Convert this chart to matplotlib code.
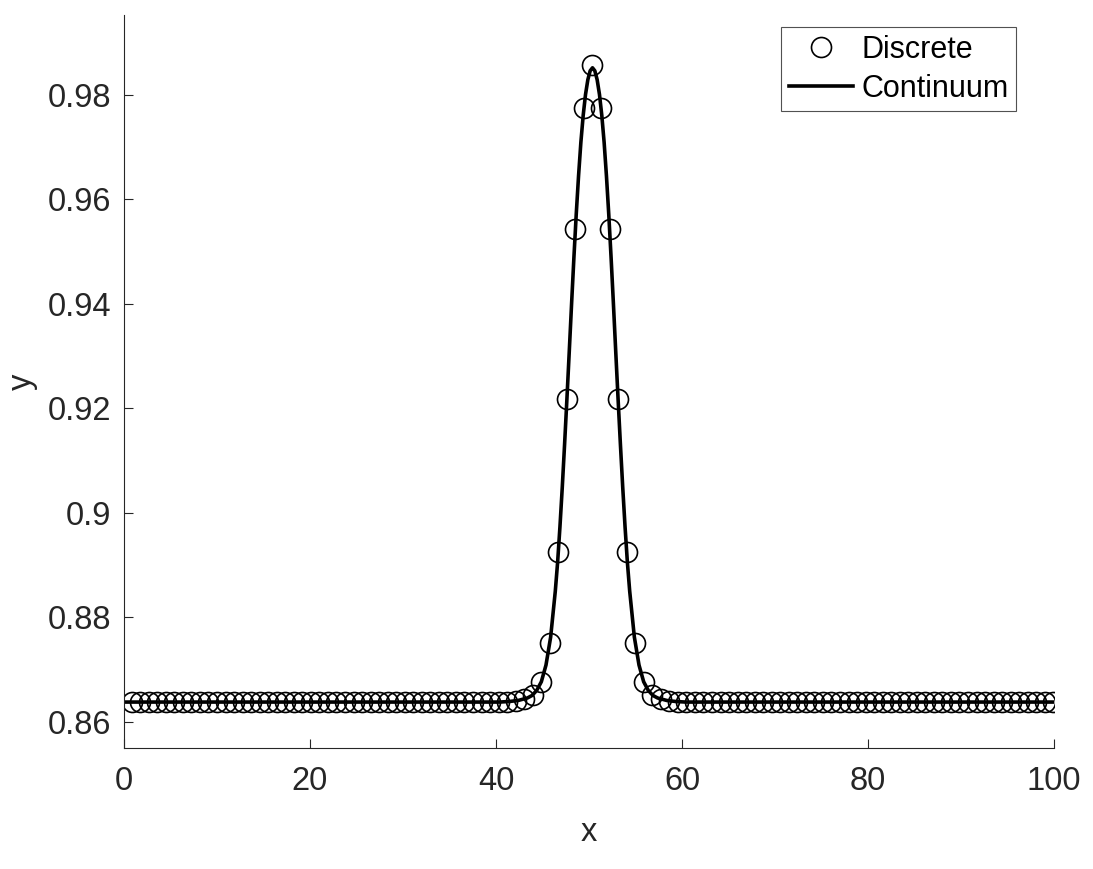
import numpy as np
import matplotlib
matplotlib.use('Agg')
import matplotlib.pyplot as plt

plt.rcParams['font.family'] = ['Liberation Sans', 'DejaVu Sans']

# Discrete lattice: 109 sites, flat background with a bump in the middle
disc_x = np.linspace(0.83, 99.93, 109)
bump_y = [0.8640, 0.8644, 0.8652, 0.8677, 0.8751, 0.8925, 0.9218, 0.9543, 0.9776,
          0.9857,
          0.9776, 0.9543, 0.9218, 0.8925, 0.8751, 0.8677, 0.8652, 0.8644, 0.8640]
disc_y = [0.8638] * 45 + bump_y + [0.8638] * 45

peak_x = 50.38
cont_offset = [0.0, 0.25, 0.5, 0.75, 1.0, 1.25, 1.5, 1.75, 2.0, 2.25, 2.5, 2.75,
               3.0, 3.25, 3.5, 3.75, 4.0, 4.5, 5.0, 5.5, 6.0, 6.5, 7.0, 8.0,
               9.0, 10.0, 50.38]
cont_height = [0.98520, 0.98463, 0.98292, 0.98010, 0.97610, 0.97094, 0.96450,
               0.95712, 0.94884, 0.93999, 0.93084, 0.92183, 0.91316, 0.90491,
               0.89735, 0.89057, 0.88502, 0.87624, 0.87089, 0.86769, 0.86602,
               0.86506, 0.86458, 0.86410, 0.86390, 0.86380, 0.86380]

off = np.array(cont_offset)
hgt = np.array(cont_height)
cont_x = np.concatenate([peak_x - off[::-1], peak_x + off[1:]])
cont_y = np.concatenate([hgt[::-1], hgt[1:]])
cont_x = np.clip(cont_x, 0, 100)

xticks = [0, 20, 40, 60, 80, 100]
yticks = [0.86, 0.88, 0.90, 0.92, 0.94, 0.96, 0.98]
ytick_labels = ['0.86', '0.88', '0.9', '0.92', '0.94', '0.96', '0.98']

axis_grey = '#262626'

fig = plt.figure(figsize=(10.93, 8.69), dpi=100)
ax = fig.add_axes([0.1134, 0.1392, 0.9643 - 0.1134, 0.9827 - 0.1392])

ax.plot(disc_x, disc_y, 'o', markerfacecolor='none', markeredgecolor='black',
        markersize=14.4, markeredgewidth=1.2, label='Discrete')
ax.plot(cont_x, cont_y, '-', color='black', linewidth=2.6, label='Continuum')

ax.set_xlim(0, 100)
ax.set_ylim(0.855, 0.9953)
ax.set_xticks(xticks)
ax.set_yticks(yticks)
ax.set_yticklabels(ytick_labels)

for side in ['top', 'right']:
    ax.spines[side].set_visible(False)
for side in ['left', 'bottom']:
    ax.spines[side].set_color(axis_grey)
    ax.spines[side].set_linewidth(0.8)

ax.tick_params(direction='in', length=6.5, width=0.8, color=axis_grey,
               labelcolor=axis_grey, labelsize=23.5)
ax.tick_params(axis='x', pad=13)
ax.tick_params(axis='y', pad=9)

ax.set_xlabel('x', fontsize=23.5, color=axis_grey, labelpad=14)
ax.set_ylabel('y', fontsize=23.5, color=axis_grey, labelpad=7)

leg = ax.legend(loc='upper right', bbox_to_anchor=(1016 / 1093, 1 - 27 / 869),
                bbox_transform=fig.transFigure, fontsize=22, frameon=True,
                fancybox=False, handlelength=2.1, handletextpad=0.26,
                labelspacing=0.3, borderpad=0.25, borderaxespad=0)
leg.get_frame().set_edgecolor(axis_grey)
leg.get_frame().set_linewidth(0.8)

plt.savefig('out.png', dpi=100)
